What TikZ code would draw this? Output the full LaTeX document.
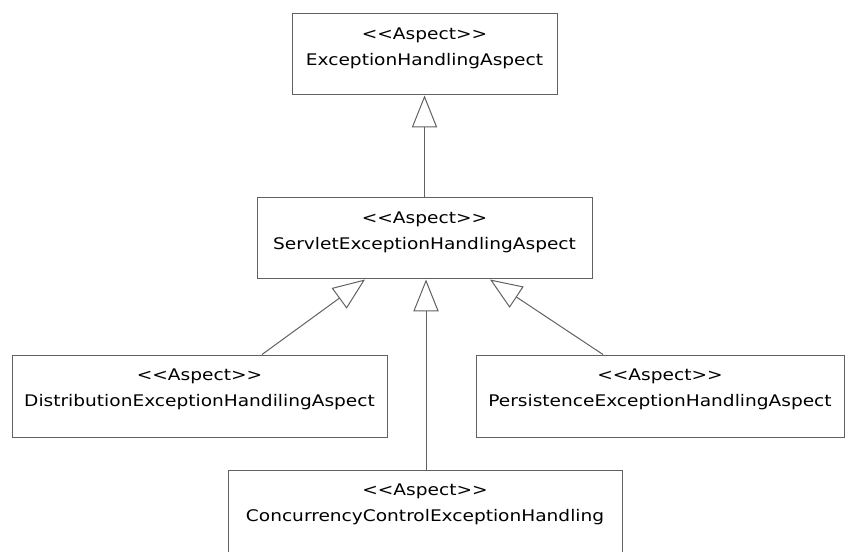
\documentclass[tikz,border=0pt]{standalone}
\usepackage{fontspec}
\setmainfont[FakeStretch=1.16]{DejaVu Sans}
\usetikzlibrary{arrows.meta}
\newcommand{\stereoAspect}{\textless\kern0pt\textless Aspect\textgreater\kern0pt\textgreater}
\begin{document}
\begin{tikzpicture}[x=0.75pt,y=-0.75pt,
  aspect/.style={draw=black!62,line width=0.75pt,fill=white,inner sep=0pt},
  stereo/.style={anchor=north,align=center,inner sep=0pt,yshift=-10.9pt,
    font=\fontsize{12pt}{19.5pt}\selectfont},
  inherit/.style={draw=black!62,line width=0.75pt,-{Triangle[open,length=24pt,width=19pt]}}]
\useasboundingbox (0,0) rectangle (846,552);
\clip (0,0) rectangle (846,552);
\node [aspect,minimum width=198.75pt,minimum height=60.75pt] (exc) at (424.5,54.5) {};
\node [stereo] (excText) at (exc.north) {\stereoAspect\\ExceptionHandlingAspect};
\node [aspect,minimum width=251.25pt,minimum height=60.75pt] (servlet) at (424.5,238.5) {};
\node [stereo] (servletText) at (servlet.north) {\stereoAspect\\ServletExceptionHandlingAspect};
\node [aspect,minimum width=281.25pt,minimum height=61.5pt] (dist) at (199.5,396) {};
\node [stereo] (distText) at (dist.north) {\stereoAspect\\DistributionExceptionHandilingAspect};
\node [aspect,minimum width=276pt,minimum height=61.5pt] (pers) at (660,396) {};
\node [stereo] (persText) at (pers.north) {\stereoAspect\\PersistenceExceptionHandlingAspect};
\node [aspect,minimum width=295.5pt,minimum height=67.5pt] (conc) at (425,515) {};
\node [stereo] (concText) at (conc.north) {\stereoAspect\\ConcurrencyControlExceptionHandling};
\draw [inherit] (servlet.north) -- (exc.south);
\draw [inherit] ([shift={(62.5,0)}]dist.north) -- ([shift={(-59.5,0)}]servlet.south);
\draw [inherit] ([shift={(-57,0)}]pers.north) -- ([shift={(65.5,0)}]servlet.south);
\draw [inherit] ([shift={(1,0)}]conc.north) -- ([shift={(1.5,0)}]servlet.south);
\end{tikzpicture}
\end{document}
